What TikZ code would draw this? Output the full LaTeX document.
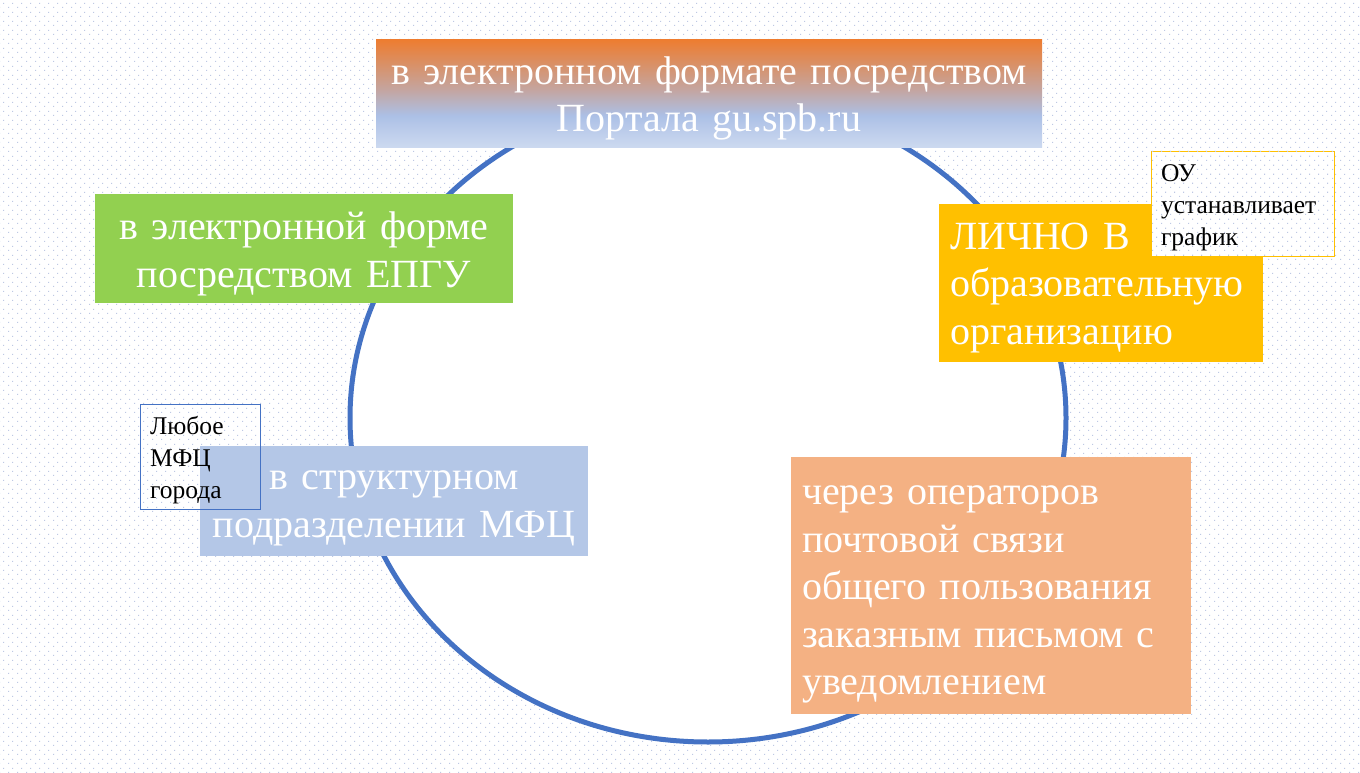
\documentclass[tikz,border=0pt]{standalone}
\usepackage{fontspec}
\setmainfont{Liberation Serif}
\usetikzlibrary{patterns}
\definecolor{dotc}{RGB}{190,200,228}
\definecolor{ringc}{RGB}{68,114,196}
\definecolor{greenc}{RGB}{146,208,80}
\definecolor{yellowc}{RGB}{255,192,0}
\definecolor{lbluec}{RGB}{180,199,231}
\definecolor{peachc}{RGB}{244,177,131}
\definecolor{orangec}{RGB}{237,125,49}
\definecolor{gradmid}{RGB}{196,165,160}
\definecolor{gradblue}{RGB}{172,192,230}
\definecolor{gradlow}{RGB}{205,218,240}
\pgfdeclarepatternformonly{bgdots}{\pgfqpoint{0pt}{0pt}}{\pgfqpoint{9pt}{9pt}}{\pgfqpoint{9pt}{9pt}}{%
  \pgfpathrectangle{\pgfqpoint{0pt}{0pt}}{\pgfqpoint{1.3pt}{1.3pt}}%
  \pgfpathrectangle{\pgfqpoint{4.5pt}{4.5pt}}{\pgfqpoint{1.3pt}{1.3pt}}%
  \pgfusepath{fill}}
\pgfdeclareverticalshading{topgrad}{100bp}{color(0bp)=(gradlow); color(25bp)=(gradlow); color(40bp)=(gradblue); color(52bp)=(gradmid); color(75bp)=(orangec); color(100bp)=(orangec)}
\newcommand\bigf{\fontsize{40}{47.5}\selectfont\spaceskip=0.22em plus 0.05em}
\newcommand\smallf{\fontsize{25.5}{32}\selectfont}
\tikzset{
  boxshape/.style={inner sep=0pt, draw=none},
  bigtext/.style={inner sep=0pt, font=\bigf, text=white},
  notebox/.style={inner sep=0pt, line width=0.8pt},
  notetext/.style={inner sep=0pt, font=\smallf, text=black, align=left},
}
\begin{document}
\begin{tikzpicture}[x=1pt,y=-1pt]
\useasboundingbox (0,0) rectangle (1360,773);
\fill[white] (0,0) rectangle (1360,773);
\fill[pattern=bgdots, pattern color=dotc] (0,0) rectangle (1360,773);
% ring
\draw[line width=5pt, ringc, fill=white] (708,418) ellipse [x radius=358, y radius=324];
% top box
\node[boxshape, shading=topgrad, minimum width=666pt, minimum height=108pt] (portal) at (709,94) {};
\node[bigtext, text width=644pt, align=center] (portaltext) at ([yshift=-4.5pt]portal.center)
  {в электронном формате посредством\\Портала gu.spb.ru};
% green box
\node[boxshape, fill=greenc, minimum width=418pt, minimum height=109pt] (epgu) at (304,248.5) {};
\node[bigtext, text width=396pt, align=center] (epgutext) at ([yshift=-5.5pt]epgu.center)
  {в электронной форме\\посредством ЕПГУ};
% yellow box
\node[boxshape, fill=yellowc, minimum width=324pt, minimum height=158pt] (lichno) at (1101,283) {};
\node[bigtext, text width=302pt, align=left] (lichnotext) at ([yshift=-5pt]lichno.center)
  {ЛИЧНО В\\образовательную\\организацию};
% OU note
\node[notebox, draw=yellowc, fill=white, minimum width=183pt, minimum height=105pt] (ou) at (1242.5,203.5) {};
\fill[pattern=bgdots, pattern color=dotc] (ou.north west) rectangle (ou.south east);
\node[notetext, text width=163pt] (outext) at ([yshift=-4pt]ou.center)
  {ОУ\\устанавливает\\график};
% blue box
\node[boxshape, fill=lbluec, minimum width=388pt, minimum height=110pt] (mfc) at (394,501) {};
\node[bigtext, text width=366pt, align=center] (mfctext) at ([yshift=-7.5pt]mfc.center)
  {в структурном\\подразделении МФЦ};
% MFC note
\node[notebox, draw=ringc, minimum width=120pt, minimum height=105pt] (any) at (200,456.5) {};
\node[notetext, text width=100pt] (anytext) at ([yshift=-4pt]any.center)
  {Любое\\МФЦ\\города};
% peach box
\node[boxshape, fill=peachc, minimum width=400pt, minimum height=257pt] (post) at (991,585.5) {};
\node[bigtext, text width=378pt, align=left] (posttext) at ([yshift=-9pt]post.center)
  {через операторов\\почтовой связи\\общего пользования\\заказным письмом с\\уведомлением};
\end{tikzpicture}
\end{document}
